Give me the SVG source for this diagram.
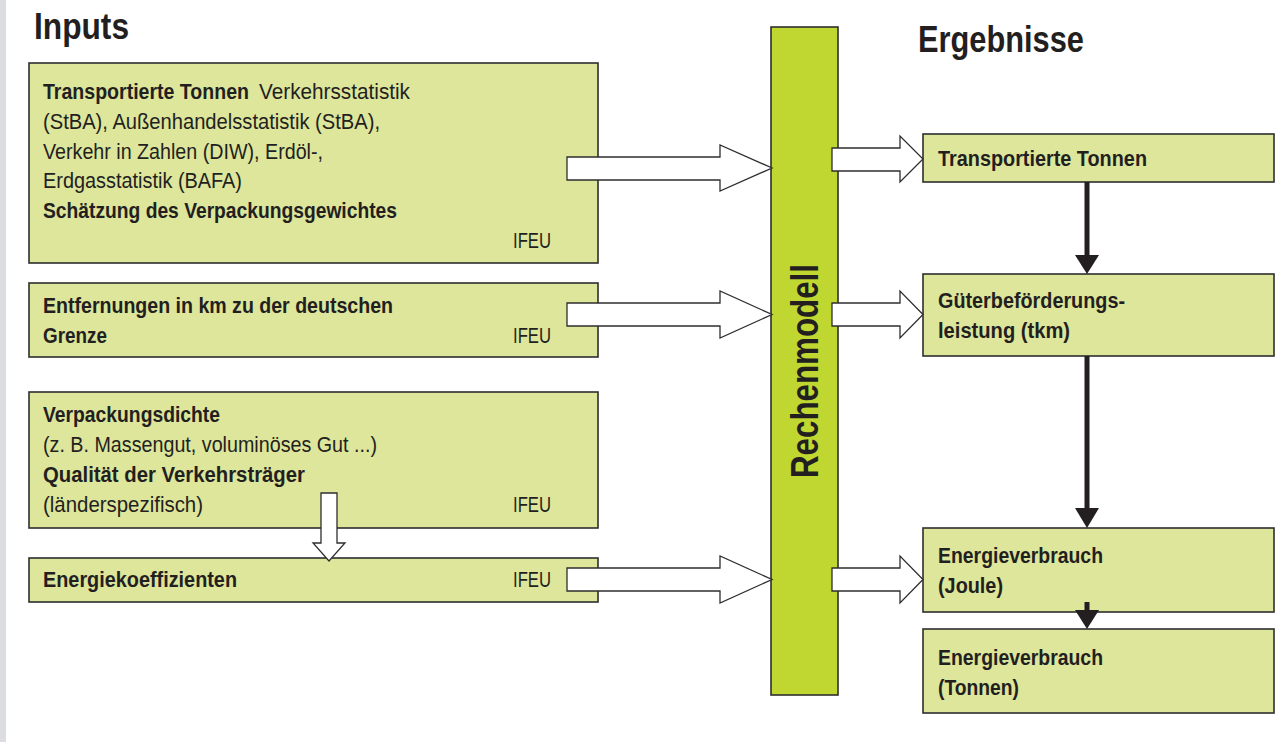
<svg xmlns="http://www.w3.org/2000/svg" width="1276" height="742" viewBox="0 0 1276 742">
<style>
.box{fill:#dde69b;stroke:#2e2e2e;stroke-width:1.6}
.bar{fill:#bfd730;stroke:#2e2e2e;stroke-width:1.6}
.wa{fill:#fff;stroke:#2e2e2e;stroke-width:1.3;stroke-linejoin:miter}
.t{font-family:"Liberation Sans",Arial,sans-serif;font-size:22px;fill:#231f20}
.b{font-weight:bold}
.h{font-family:"Liberation Sans",Arial,sans-serif;font-size:37px;font-weight:bold;fill:#231f20}
.ba{fill:#231f20}
</style>
<rect x="0" y="0" width="1276" height="742" fill="#fff"/>
<rect x="0" y="0" width="6" height="742" fill="#dcdde0"/>
<text class="h" x="34" y="39" textLength="95" lengthAdjust="spacingAndGlyphs">Inputs</text>
<text class="h" x="918" y="52" textLength="166" lengthAdjust="spacingAndGlyphs">Ergebnisse</text>

<g id="input1">
<rect class="box" x="29" y="63" width="569" height="200"/>
<text class="t b" x="43" y="99" textLength="206" lengthAdjust="spacingAndGlyphs">Transportierte Tonnen</text>
<text class="t" x="259" y="99" textLength="151" lengthAdjust="spacingAndGlyphs">Verkehrsstatistik</text>
<text class="t" x="43" y="129" textLength="337" lengthAdjust="spacingAndGlyphs">(StBA), Außenhandelsstatistik (StBA),</text>
<text class="t" x="43" y="159" textLength="280" lengthAdjust="spacingAndGlyphs">Verkehr in Zahlen (DIW), Erdöl-,</text>
<text class="t" x="43" y="188" textLength="199" lengthAdjust="spacingAndGlyphs">Erdgasstatistik (BAFA)</text>
<text class="t b" x="43" y="218" textLength="354" lengthAdjust="spacingAndGlyphs">Schätzung des Verpackungsgewichtes</text>
<text class="t" x="513" y="248" textLength="38" lengthAdjust="spacingAndGlyphs">IFEU</text>
</g>

<g id="input2">
<rect class="box" x="29" y="283" width="569" height="74"/>
<text class="t b" x="43" y="313" textLength="350" lengthAdjust="spacingAndGlyphs">Entfernungen in km zu der deutschen</text>
<text class="t b" x="43" y="343" textLength="64" lengthAdjust="spacingAndGlyphs">Grenze</text>
<text class="t" x="513" y="343" textLength="38" lengthAdjust="spacingAndGlyphs">IFEU</text>
</g>

<g id="input3">
<rect class="box" x="29" y="392" width="569" height="136"/>
<text class="t b" x="43" y="422" textLength="177" lengthAdjust="spacingAndGlyphs">Verpackungsdichte</text>
<text class="t" x="43" y="452" textLength="334" lengthAdjust="spacingAndGlyphs">(z. B. Massengut, voluminöses Gut ...)</text>
<text class="t b" x="43" y="482" textLength="262" lengthAdjust="spacingAndGlyphs">Qualität der Verkehrsträger</text>
<text class="t" x="43" y="512" textLength="160" lengthAdjust="spacingAndGlyphs">(länderspezifisch)</text>
<text class="t" x="513" y="512" textLength="38" lengthAdjust="spacingAndGlyphs">IFEU</text>
</g>

<g id="input4">
<rect class="box" x="29" y="558" width="569" height="44"/>
<text class="t b" x="43" y="587" textLength="194" lengthAdjust="spacingAndGlyphs">Energiekoeffizienten</text>
<text class="t" x="513" y="587" textLength="38" lengthAdjust="spacingAndGlyphs">IFEU</text>
</g>

<g id="rechenmodell">
<rect class="bar" x="771" y="27" width="67" height="668"/>
<text class="h" transform="translate(818,371) rotate(-90)" text-anchor="middle" style="font-size:39px" textLength="214" lengthAdjust="spacingAndGlyphs">Rechenmodell</text>
</g>

<g id="result1">
<rect class="box" x="923" y="134" width="351" height="48"/>
<text class="t b" x="938" y="166" textLength="209" lengthAdjust="spacingAndGlyphs">Transportierte Tonnen</text>
</g>
<g id="result2">
<rect class="box" x="923" y="274" width="351" height="82"/>
<text class="t b" x="938" y="308" textLength="187" lengthAdjust="spacingAndGlyphs">Güterbeförderungs-</text>
<text class="t b" x="938" y="338" textLength="132" lengthAdjust="spacingAndGlyphs">leistung (tkm)</text>
</g>
<g id="result3">
<rect class="box" x="923" y="528" width="351" height="84"/>
<text class="t b" x="938" y="563" textLength="165" lengthAdjust="spacingAndGlyphs">Energieverbrauch</text>
<text class="t b" x="938" y="593" textLength="65" lengthAdjust="spacingAndGlyphs">(Joule)</text>
</g>
<g id="result4">
<rect class="box" x="923" y="629" width="351" height="84"/>
<text class="t b" x="938" y="665" textLength="165" lengthAdjust="spacingAndGlyphs">Energieverbrauch</text>
<text class="t b" x="938" y="695" textLength="81" lengthAdjust="spacingAndGlyphs">(Tonnen)</text>
</g>

<g id="connectors">
<polygon class="wa" points="567,157 720,157 720,145 772,168 720,191 720,180 567,180"/>
<polygon class="wa" points="567,303 720,303 720,291 772,314.5 720,338 720,326 567,326"/>
<polygon class="wa" points="567,568 720,568 720,556 772,579.5 720,603 720,591 567,591"/>
<polygon class="wa" points="832,148 900,148 900,136 923,159 900,182 900,171 832,171"/>
<polygon class="wa" points="832,303 900,303 900,291 923,314.5 900,338 900,326 832,326"/>
<polygon class="wa" points="832,568 900,568 900,556 923,579.5 900,603 900,591 832,591"/>
<polygon class="wa" points="321,493 337,493 337,543 345,543 329,561 313,543 321,543"/>
<rect class="ba" x="1084.5" y="182" width="5" height="75"/>
<polygon class="ba" points="1075,255 1099,255 1087,274"/>
<rect class="ba" x="1084.5" y="356" width="5" height="154"/>
<polygon class="ba" points="1075,508 1099,508 1087,528"/>
<rect class="ba" x="1084.5" y="602" width="5" height="10"/>
<polygon class="ba" points="1075,610 1099,610 1087,629"/>
</g>
</svg>
